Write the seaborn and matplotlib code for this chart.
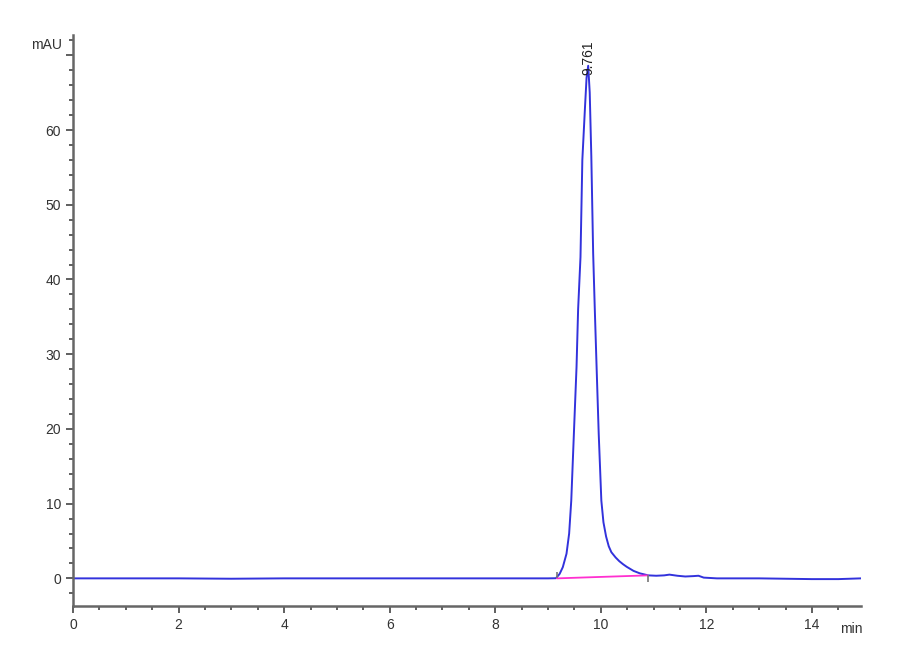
import numpy as np
import pandas as pd
import matplotlib.pyplot as plt
from matplotlib.ticker import MultipleLocator, FuncFormatter
import seaborn as sns

# chromatogram trace (min, mAU)
time_min = [0.0, 1.0, 2.0, 3.0, 4.0, 5.0, 6.0, 7.0, 8.0, 8.6, 9.0, 9.15,
            9.22, 9.28, 9.35, 9.40, 9.44, 9.49, 9.54, 9.57, 9.615, 9.65,
            9.70, 9.73, 9.761, 9.79, 9.82, 9.855, 9.886, 9.92, 9.96, 10.01,
            10.05, 10.1, 10.15, 10.2, 10.28, 10.35, 10.42, 10.49, 10.62, 10.74,
            10.9, 11.05, 11.2, 11.3, 11.45, 11.6, 11.75, 11.85, 11.95, 12.2,
            13.0, 13.5, 14.0, 14.5, 14.93]
signal_mau = [0.0, 0.0, 0.0, -0.05, 0.0, 0.0, 0.0, 0.0, 0.0, 0.0, 0.0, 0.02,
              0.6, 1.5, 3.3, 6.0, 10.4, 19.4, 28.3, 36.0, 43.0, 56.0,
              63.0, 67.0, 68.6, 65.0, 56.5, 43.5, 36.0, 28.3, 19.4, 10.4,
              7.5, 5.6, 4.3, 3.5, 2.8, 2.3, 1.9, 1.55, 1.0, 0.67,
              0.4, 0.35, 0.4, 0.5, 0.35, 0.25, 0.3, 0.35, 0.1, 0.0,
              0.0, -0.05, -0.1, -0.1, 0.0]

# peak annotation
peak_rt = [9.761]
peak_height = [68.6]
peak_labels = ["9.761"]
baseline_x = [9.17, 10.89]
baseline_y = [0.0, 0.4]

df = pd.DataFrame({"time": time_min, "signal": signal_mau})

sns.set_style("ticks")
plt.rcParams['font.family'] = ['Liberation Sans', 'DejaVu Sans']

fig = plt.figure(figsize=(9, 6.6), dpi=100)
ax = fig.add_axes([0.0811, 0.0818, 0.8756, 0.865])

sns.lineplot(data=df, x="time", y="signal", ax=ax, color="#3232dc",
             linewidth=1.4, sort=False, estimator=None)

# integration baseline and start/end marks
ax.plot(baseline_x, baseline_y, color="#ff30d0", linewidth=1.3)
ax.vlines(baseline_x[0], baseline_y[0], baseline_y[0] + 0.8, color="#777777", linewidth=1.2)
ax.vlines(baseline_x[1], baseline_y[1] - 0.9, baseline_y[1], color="#777777", linewidth=1.2)

for x, h, lab in zip(peak_rt, peak_height, peak_labels):
    ax.text(x, h - 1.3, lab, rotation=90, ha="center", va="bottom",
            fontsize=10, color="#222222")

ax.set_xlim(0, 14.93)
ax.set_ylim(-3.7, 72.7)
ax.xaxis.set_major_locator(MultipleLocator(2))
ax.xaxis.set_minor_locator(MultipleLocator(0.5))
ax.yaxis.set_major_locator(MultipleLocator(10))
ax.yaxis.set_minor_locator(MultipleLocator(2))
# the top major tick carries no number, the unit sits there instead
ax.yaxis.set_major_formatter(FuncFormatter(lambda v, p: "" if v > 65 else f"{v:g}"))
ax.set_xlabel("")
ax.set_ylabel("")

sns.despine(ax=ax)
for side in ["left", "bottom"]:
    ax.spines[side].set_color("#666666")
    ax.spines[side].set_linewidth(1.8)
ax.tick_params(which="major", length=5, width=1.2, color="#444444",
               labelsize=10, labelcolor="#333333")
ax.tick_params(which="minor", length=3, width=1.2, color="#444444")

ax.text(-0.2, 71.4, "mAU", ha="right", va="center", fontsize=10, color="#333333")
ax.text(14.95, -5.9, "min", ha="right", va="top", fontsize=10, color="#333333")

fig.savefig("out.png", dpi=100, facecolor="white")
